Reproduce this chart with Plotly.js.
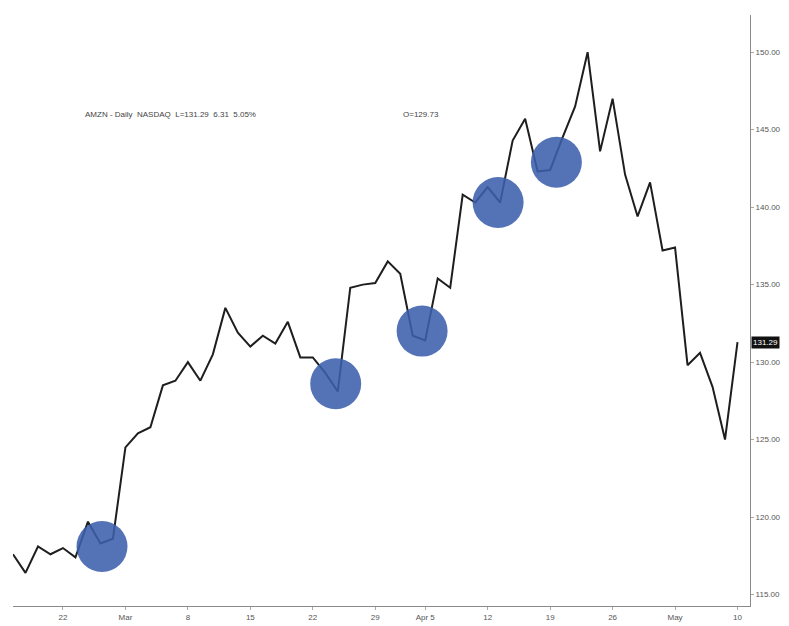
<!DOCTYPE html>
<html>
<head>
<meta charset="utf-8">
<script src="https://cdn.plot.ly/plotly-3.0.1.min.js"></script>
<style>html,body{margin:0;padding:0;background:#fff;}#chart{width:789px;height:626px;}</style>
</head>
<body>
<div id="chart"></div>
<script>
var dates = [
  "2010-02-16","2010-02-17","2010-02-18","2010-02-19",
  "2010-02-22","2010-02-23","2010-02-24","2010-02-25","2010-02-26",
  "2010-03-01","2010-03-02","2010-03-03","2010-03-04","2010-03-05",
  "2010-03-08","2010-03-09","2010-03-10","2010-03-11","2010-03-12",
  "2010-03-15","2010-03-16","2010-03-17","2010-03-18","2010-03-19",
  "2010-03-22","2010-03-23","2010-03-24","2010-03-25","2010-03-26",
  "2010-03-29","2010-03-30","2010-03-31","2010-04-01",
  "2010-04-05","2010-04-06","2010-04-07","2010-04-08","2010-04-09",
  "2010-04-12","2010-04-13","2010-04-14","2010-04-15","2010-04-16",
  "2010-04-19","2010-04-20","2010-04-21","2010-04-22","2010-04-23",
  "2010-04-26","2010-04-27","2010-04-28","2010-04-29","2010-04-30",
  "2010-05-03","2010-05-04","2010-05-05","2010-05-06","2010-05-07",
  "2010-05-10"
];
var closes = [
  117.6, 116.4, 118.1, 117.6,
  118.0, 117.4, 119.7, 118.3, 118.6,
  124.5, 125.4, 125.8, 128.5, 128.8,
  130.0, 128.8, 130.5, 133.5, 131.9,
  131.0, 131.7, 131.2, 132.6, 130.3,
  130.3, 129.3, 128.1, 134.8, 135.0,
  135.1, 136.5, 135.7, 131.7,
  131.4, 135.4, 134.8, 140.8, 140.3,
  141.3, 140.3, 144.3, 145.7, 142.3,
  142.4, 144.5, 146.5, 150.0, 143.6,
  147.0, 142.1, 139.4, 141.6, 137.2,
  137.4, 129.8, 130.6, 128.4, 125.0,
  131.29
];
var circleDates  = ["2010-02-25 03:00","2010-03-23 20:00","2010-04-01 18:00","2010-04-12 20:00","2010-04-19 12:00"];
var circleValues = [118.1, 128.6, 132.0, 140.3, 142.9];

var tickDates  = ["2010-02-22","2010-03-01","2010-03-08","2010-03-15","2010-03-22","2010-03-29","2010-04-05","2010-04-12","2010-04-19","2010-04-26","2010-05-03","2010-05-10"];
var tickLabels = ["22","Mar","8","15","22","29","Apr 5","12","19","26","May","10"];
var priceTicks = [115,120,125,130,135,140,145,150];

var headerText = "AMZN - Daily  NASDAQ  L=131.29  6.31  5.05%";
var openText = "O=129.73";
var lastPrice = 131.29;

var traces = [
  {
    type: "scatter", mode: "lines", x: dates, y: closes,
    line: {color: "#1e1e1e", width: 2},
    hoverinfo: "skip", showlegend: false
  },
  {
    type: "scatter", mode: "markers", x: circleDates, y: circleValues,
    marker: {size: 51, color: "rgb(60,95,172)", opacity: 0.88, line: {width: 0}},
    hoverinfo: "skip", showlegend: false
  }
];

var layout = {
  width: 789, height: 626,
  margin: {l: 13, r: 39, t: 15, b: 20},
  paper_bgcolor: "#ffffff", plot_bgcolor: "#ffffff",
  font: {family: "Liberation Sans, Arial, sans-serif", size: 8, color: "#555"},
  showlegend: false,
  xaxis: {
    type: "date",
    range: ["2010-02-16", "2010-05-11"],
    rangebreaks: [{bounds: ["sat", "mon"]}, {values: ["2010-04-02"]}],
    tickmode: "array", tickvals: tickDates, ticktext: tickLabels,
    showgrid: false, zeroline: false,
    showline: true, linecolor: "#8a8a8a", linewidth: 1,
    ticks: "outside", ticklen: 3, tickcolor: "#aaa",
    tickfont: {size: 8, color: "#555"}, fixedrange: true
  },
  yaxis: {
    side: "right",
    range: [114.26, 152.4],
    tickmode: "array", tickvals: priceTicks, tickformat: ".2f",
    showgrid: false, zeroline: false,
    showline: true, linecolor: "#8a8a8a", linewidth: 1,
    ticks: "outside", ticklen: 3, tickcolor: "#aaa",
    tickfont: {size: 8, color: "#555"}, fixedrange: true
  },
  annotations: [
    {xref: "paper", yref: "paper", x: 0.095, y: 0.831, xanchor: "left", yanchor: "middle",
     text: headerText, showarrow: false, font: {size: 8, color: "#444"}},
    {xref: "paper", yref: "paper", x: 0.526, y: 0.831, xanchor: "left", yanchor: "middle",
     text: openText, showarrow: false, font: {size: 8, color: "#444"}},
    {xref: "paper", yref: "y", x: 1.002, y: lastPrice, xanchor: "left", yanchor: "middle",
     text: lastPrice.toFixed(2), showarrow: false, bgcolor: "#111", borderpad: 1,
     font: {size: 8, color: "#fff"}}
  ]
};

Plotly.newPlot("chart", traces, layout, {displayModeBar: false, staticPlot: true});
</script>
</body>
</html>
